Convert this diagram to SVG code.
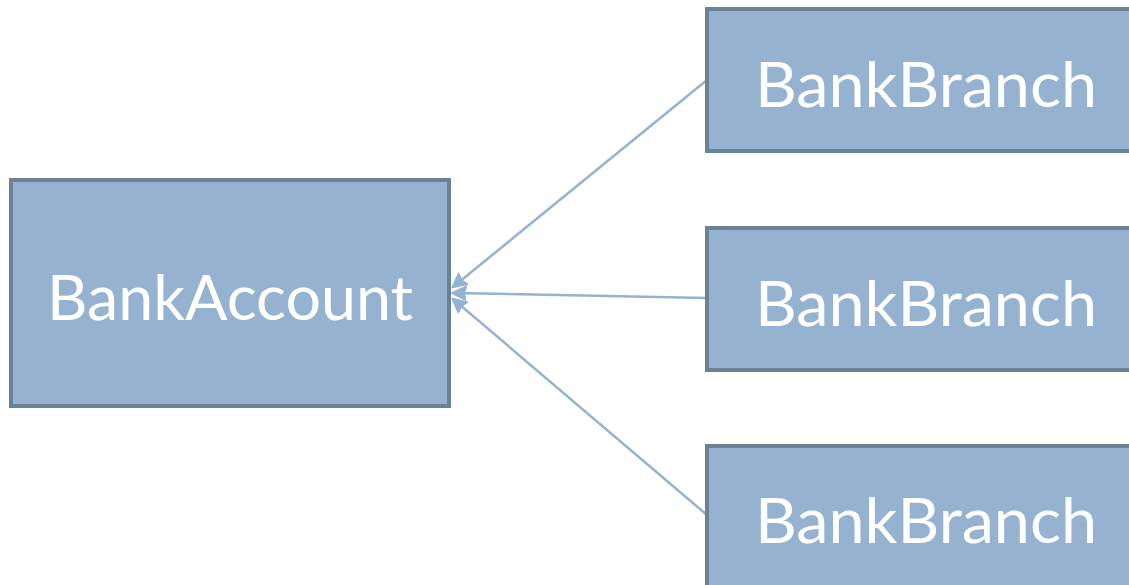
<svg xmlns="http://www.w3.org/2000/svg" width="1129" height="585" viewBox="0 0 1129 585">
  <style>
    .box { fill: #95b3d1; stroke: #6a8296; stroke-width: 4; }
    .label { font-family: Lato, "Open Sans", sans-serif; font-size: 62px; fill: #ffffff; }
    .link { stroke: #93b3d0; stroke-width: 2.5; fill: none; }
  </style>
  <defs>
    <marker id="head" viewBox="0 0 10 10" refX="9" refY="5" markerWidth="6" markerHeight="7" markerUnits="strokeWidth" orient="auto">
      <path d="M0,0 L10,5 L0,10 L1.5,5 Z" fill="#93b3d0" stroke="#93b3d0" stroke-width="0.8"/>
    </marker>
  </defs>
  <rect width="1129" height="585" fill="#ffffff"/>
  <g id="connectors">
    <line class="link" x1="707" y1="80" x2="453" y2="287" marker-end="url(#head)"/>
    <line class="link" x1="707" y1="298" x2="453" y2="293" marker-end="url(#head)"/>
    <line class="link" x1="707" y1="515" x2="453" y2="299" marker-end="url(#head)"/>
  </g>
  <g id="bank-account">
    <rect class="box" x="11" y="180" width="438" height="226"/>
    <text class="label" x="230" y="320" text-anchor="middle" textLength="366" lengthAdjust="spacingAndGlyphs">BankAccount</text>
  </g>
  <g id="bank-branch-1">
    <rect class="box" x="707" y="9" width="440" height="142"/>
    <text class="label" x="926" y="107" text-anchor="middle" textLength="342" lengthAdjust="spacingAndGlyphs">BankBranch</text>
  </g>
  <g id="bank-branch-2">
    <rect class="box" x="707" y="228" width="440" height="142"/>
    <text class="label" x="926" y="326" text-anchor="middle" textLength="342" lengthAdjust="spacingAndGlyphs">BankBranch</text>
  </g>
  <g id="bank-branch-3">
    <rect class="box" x="707" y="446" width="440" height="142"/>
    <text class="label" x="926" y="543" text-anchor="middle" textLength="342" lengthAdjust="spacingAndGlyphs">BankBranch</text>
  </g>
</svg>
